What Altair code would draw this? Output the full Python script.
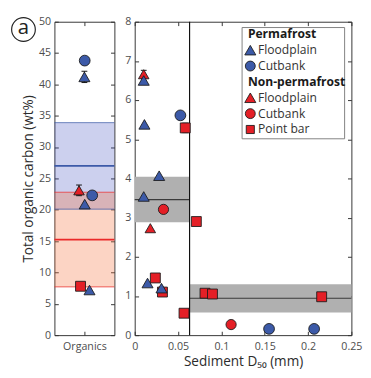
import altair as alt
import pandas as pd

BLUE = "#3c5aa8"
RED = "#e41f26"
FONT = "Open Sans"
LABEL_C = "#4d4d4d"
TITLE_C = "#2b2b2b"

# ---- groups ----
groups = ["Permafrost Floodplain", "Permafrost Cutbank",
          "Non-permafrost Floodplain", "Non-permafrost Cutbank", "Non-permafrost Point bar"]
group_shapes = ["triangle-up", "circle", "triangle-up", "circle", "square"]
group_colors = [BLUE, BLUE, RED, RED, RED]
group_sizes = [130, 105, 130, 105, 70]

# ---- left panel: organics ----
org_group = ["Permafrost Cutbank", "Permafrost Floodplain", "Non-permafrost Floodplain",
             "Permafrost Cutbank", "Permafrost Floodplain", "Non-permafrost Point bar",
             "Permafrost Floodplain"]
org_toc = [43.8, 41.2, 23.1, 22.3, 20.9, 7.8, 7.2]
org_err = [0, 0.9, 0.85, 0, 0, 0, 0]
org_jitter = [1.01, 1.0, 0.82, 1.26, 1.01, 0.87, 1.17]

org_band_name = ["Permafrost", "Non-permafrost"]
org_band_mean = [27.0, 15.25]
org_band_sd = [6.9, 7.55]
org_band_line = [BLUE, "#ea2a2a"]
org_band_fill = ["#3344bb", "#f5703a"]
org_band_alpha = [0.25, 0.3]

# ---- middle panel: sediment ----
pf_fp_d50 = [0.0104, 0.0112, 0.0282, 0.0104, 0.0148, 0.0309]
pf_fp_toc = [6.50, 5.38, 4.07, 3.54, 1.33, 1.20]
pf_fp_err = [0.08, 0, 0, 0, 0, 0]
pf_cb_d50 = [0.0527, 0.155, 0.207]
pf_cb_toc = [5.61, 0.16, 0.16]
np_fp_d50 = [0.0104, 0.0180]
np_fp_toc = [6.66, 2.73]
np_fp_err = [0.10, 0]
np_cb_d50 = [0.0332, 0.1112]
np_cb_toc = [3.21, 0.27]
np_pb_d50 = [0.0583, 0.0711, 0.0238, 0.0320, 0.0569, 0.0811, 0.0897, 0.2157]
np_pb_toc = [5.29, 2.90, 1.46, 1.10, 0.56, 1.07, 1.05, 0.98]
np_pb_err = [0.12, 0, 0, 0, 0, 0, 0, 0]

d50_threshold = 0.0633
sed_band_mean = [3.46, 0.94]
sed_band_sd = [0.58, 0.36]

legend_labels = ["Permafrost", "Floodplain", "Cutbank", "Non-permafrost",
                 "Floodplain", "Cutbank", "Point bar"]
legend_group = [None, "Permafrost Floodplain", "Permafrost Cutbank", None,
                "Non-permafrost Floodplain", "Non-permafrost Cutbank", "Non-permafrost Point bar"]

# ---- tables ----
org_df = pd.DataFrame({"group": org_group, "toc": org_toc, "err": org_err, "pos": org_jitter})
org_df["red"] = org_df["group"].str.startswith("Non")
org_df = org_df.sort_values("red", ascending=False, kind="stable").reset_index(drop=True)
org_df["lo"] = org_df["toc"] - org_df["err"]
org_df["hi"] = org_df["toc"] + org_df["err"]

def mk(group, d, t, e=None):
    return pd.DataFrame({"group": group, "d50": d, "toc": t,
                         "err": e if e is not None else [0] * len(d)})

sed_df = pd.concat([
    mk("Non-permafrost Floodplain", np_fp_d50, np_fp_toc, np_fp_err),
    mk("Non-permafrost Cutbank", np_cb_d50, np_cb_toc),
    mk("Non-permafrost Point bar", np_pb_d50, np_pb_toc, np_pb_err),
    mk("Permafrost Floodplain", pf_fp_d50, pf_fp_toc, pf_fp_err),
    mk("Permafrost Cutbank", pf_cb_d50, pf_cb_toc),
], ignore_index=True)
sed_df["lo"] = sed_df["toc"] - sed_df["err"]
sed_df["hi"] = sed_df["toc"] + sed_df["err"]

ORG_X = [0, 2]
ORG_Y = [0, 50]
SED_X = [0, 0.25]
SED_Y = [0, 8]

org_band = pd.DataFrame({"name": org_band_name, "mean": org_band_mean, "sd": org_band_sd,
                         "line": org_band_line, "fill": org_band_fill,
                         "alpha": org_band_alpha})
org_band["lo"] = org_band["mean"] - org_band["sd"]
org_band["hi"] = org_band["mean"] + org_band["sd"]
org_band["x0"] = ORG_X[0]
org_band["x1"] = ORG_X[1]

sed_band = pd.DataFrame({"mean": sed_band_mean, "sd": sed_band_sd,
                         "x0": [SED_X[0], d50_threshold], "x1": [d50_threshold, SED_X[1]]})
sed_band["lo"] = sed_band["mean"] - sed_band["sd"]
sed_band["hi"] = sed_band["mean"] + sed_band["sd"]

# ---- scales ----
org_xs = alt.Scale(domain=ORG_X, nice=False, zero=False)
org_ys = alt.Scale(domain=ORG_Y, nice=False, zero=False)
sed_xs = alt.Scale(domain=SED_X, nice=False, zero=False)
sed_ys = alt.Scale(domain=SED_Y, nice=False, zero=False)

shape_enc = alt.Shape("group:N", scale=alt.Scale(domain=groups, range=group_shapes), legend=None)
fill_enc = alt.Fill("group:N", scale=alt.Scale(domain=groups, range=group_colors), legend=None)
size_enc = alt.Size("group:N", scale=alt.Scale(domain=groups, range=group_sizes), legend=None)

def inner(orient, values, **kw):
    return alt.Axis(orient=orient, values=values, offset=-4, tickSize=4, domain=False,
                    grid=False, tickColor="#333", labelColor=LABEL_C, titleColor=TITLE_C,
                    labelFont=FONT, titleFont=FONT, labelFontSize=11, titleFontSize=14,
                    titleFontWeight="normal", **kw)

def points(df, xf, xs, ys, xaxis, yaxis):
    return alt.Chart(df).mark_point(filled=True, opacity=1, stroke="#1a1a1a",
                                    strokeWidth=0.9).encode(
        x=alt.X(xf, type="quantitative", scale=xs, axis=xaxis),
        y=alt.Y("toc:Q", scale=ys, axis=yaxis),
        shape=shape_enc, fill=fill_enc, size=size_enc)

def errbars(df, xf, xs, ys):
    base = alt.Chart(df).transform_filter("datum.err > 0")
    stem = base.mark_rule(color="#111", strokeWidth=1).encode(
        x=alt.X(xf, type="quantitative", scale=xs, axis=None),
        y=alt.Y("lo:Q", scale=ys, axis=None), y2="hi:Q")
    caps = []
    for f in ["lo", "hi"]:
        caps.append(base.mark_rule(color="#111", strokeWidth=1, xOffset=-3, x2Offset=3).encode(
            x=alt.X(xf, type="quantitative", scale=xs, axis=None),
            x2=alt.X2(xf),
            y=alt.Y(f"{f}:Q", scale=ys, axis=None)))
    return [stem] + caps

def helper(df, xf, xs, ys, xvals, yvals):
    return alt.Chart(df).mark_point(opacity=0).encode(
        x=alt.X(xf, type="quantitative", scale=xs,
                axis=inner("top", xvals, labels=False, title=None)),
        y=alt.Y("toc:Q", scale=ys, axis=inner("right", yvals, labels=False, title=None)))

# ---- left panel ----
org_yvals = list(range(0, 51, 5))
org_bands = alt.Chart(org_band).mark_rect().encode(
    x=alt.X("x0:Q", scale=org_xs, axis=None), x2="x1:Q",
    y=alt.Y("lo:Q", scale=org_ys, axis=None), y2="hi:Q",
    fill=alt.Fill("fill:N", scale=None),
    opacity=alt.Opacity("alpha:Q", scale=None))
org_edges = []
for f in ["lo", "hi"]:
    org_edges.append(alt.Chart(org_band).mark_rule(strokeWidth=1, opacity=0.75).encode(
        x=alt.X("x0:Q", scale=org_xs, axis=None), x2="x1:Q",
        y=alt.Y(f"{f}:Q", scale=org_ys, axis=None),
        color=alt.Color("line:N", scale=None)))
org_means = alt.Chart(org_band).mark_rule(strokeWidth=1.8).encode(
    x=alt.X("x0:Q", scale=org_xs, axis=None), x2="x1:Q",
    y=alt.Y("mean:Q", scale=org_ys, axis=None),
    color=alt.Color("line:N", scale=None))

tag = pd.DataFrame({"t": ["a"]})
tag_circle = alt.Chart(tag).mark_point(shape="circle", size=600, filled=False,
                                       stroke="#222", strokeWidth=1.2, opacity=1).encode(
    x=alt.value(-32), y=alt.value(8))
tag_text = alt.Chart(tag).mark_text(fontSize=21, font=FONT, color="#222",
                                    baseline="middle", dy=-1).encode(
    x=alt.value(-32), y=alt.value(8), text="t:N")

org_points = points(org_df, "pos", org_xs, org_ys,
                    inner("bottom", [1], labelExpr="'Organics'", labelPadding=6,
                          labelFlush=False, title=None),
                    inner("left", org_yvals, labelPadding=4, title="Total organic carbon (wt%)",
                          titlePadding=3))

left = alt.layer(
    org_bands, *org_edges, org_means,
    *errbars(org_df, "pos", org_xs, org_ys),
    org_points,
    helper(org_df, "pos", org_xs, org_ys, [1], org_yvals),
    tag_circle, tag_text,
).resolve_axis(x="independent", y="independent").properties(width=62, height=324)

# ---- middle panel ----
sed_xvals = [0, 0.05, 0.1, 0.15, 0.2, 0.25]
sed_yvals = list(range(0, 9))
sed_rects = alt.Chart(sed_band).mark_rect(color="#b0b0b0").encode(
    x=alt.X("x0:Q", scale=sed_xs, axis=None), x2="x1:Q",
    y=alt.Y("lo:Q", scale=sed_ys, axis=None), y2="hi:Q")
sed_means = alt.Chart(sed_band).mark_rule(color="#3a3a3a", strokeWidth=1.1).encode(
    x=alt.X("x0:Q", scale=sed_xs, axis=None), x2="x1:Q",
    y=alt.Y("mean:Q", scale=sed_ys, axis=None))
vline = alt.Chart(pd.DataFrame({"d": [d50_threshold]})).mark_rule(
    color="#111", strokeWidth=1.2).encode(x=alt.X("d:Q", scale=sed_xs, axis=None))

sed_points = points(sed_df, "d50", sed_xs, sed_ys,
                    inner("bottom", sed_xvals, format=".2~f", labelPadding=6,
                          labelFlush=False, title="Sediment D₅₀ (mm)", titlePadding=3),
                    inner("left", sed_yvals, labelPadding=4, title=None))

# legend (pixel positions inside the plot area)
leg = pd.DataFrame({"label": legend_labels, "group": legend_group})
leg["row"] = range(len(leg))
leg["py"] = 13 + 16.4 * leg["row"]
leg["header"] = leg["group"].isna()
leg["tx"] = leg["header"].map({True: 117.0, False: 127.5})
leg["mx"] = 119.5
leg_items = leg[~leg["header"]].copy()
leg_items["shape"] = leg_items["group"].map(dict(zip(groups, group_shapes)))
leg_items["color"] = leg_items["group"].map(dict(zip(groups, group_colors)))
leg_items["size"] = leg_items["group"].map(dict(zip(groups, group_sizes)))

leg_box = alt.Chart(pd.DataFrame({"b": [0]})).mark_rect(
    fill="white", stroke="#808080", strokeWidth=1).encode(
    x=alt.value(111), x2=alt.value(217), y=alt.value(6), y2=alt.value(121))
leg_marks = alt.Chart(leg_items).mark_point(filled=True, opacity=1, stroke="#1a1a1a",
                                            strokeWidth=0.9).encode(
    x=alt.X("mx:Q", scale=None, axis=None), y=alt.Y("py:Q", scale=None, axis=None),
    shape=alt.Shape("shape:N", scale=None), fill=alt.Fill("color:N", scale=None),
    size=alt.Size("size:Q", scale=None))
leg_head = alt.Chart(leg[leg["header"]]).mark_text(
    align="left", baseline="middle", font=FONT, fontSize=12.5, fontWeight="bold",
    color="#1a1a1a").encode(
    x=alt.X("tx:Q", scale=None, axis=None), y=alt.Y("py:Q", scale=None, axis=None),
    text="label:N")
leg_text = alt.Chart(leg_items).mark_text(
    align="left", baseline="middle", font=FONT, fontSize=12.5, color="#333").encode(
    x=alt.X("tx:Q", scale=None, axis=None), y=alt.Y("py:Q", scale=None, axis=None),
    text="label:N")

middle = alt.layer(
    sed_rects, sed_means, vline,
    *errbars(sed_df, "d50", sed_xs, sed_ys),
    sed_points,
    helper(sed_df, "d50", sed_xs, sed_ys, sed_xvals, sed_yvals),
    leg_box, leg_marks, leg_head, leg_text,
).resolve_axis(x="independent", y="independent").properties(width=224, height=324)

chart = alt.hconcat(left, middle, spacing=8).properties(padding=0).configure_axis(
    grid=False, labelFont=FONT, titleFont=FONT, labelFontSize=11, titleFontSize=14,
    labelColor=LABEL_C, titleColor=TITLE_C, tickColor="#333", titleFontWeight="normal",
).configure_view(stroke="#333", strokeWidth=1)

chart.save("out.html", embed_options={"renderer": "svg", "actions": False})
